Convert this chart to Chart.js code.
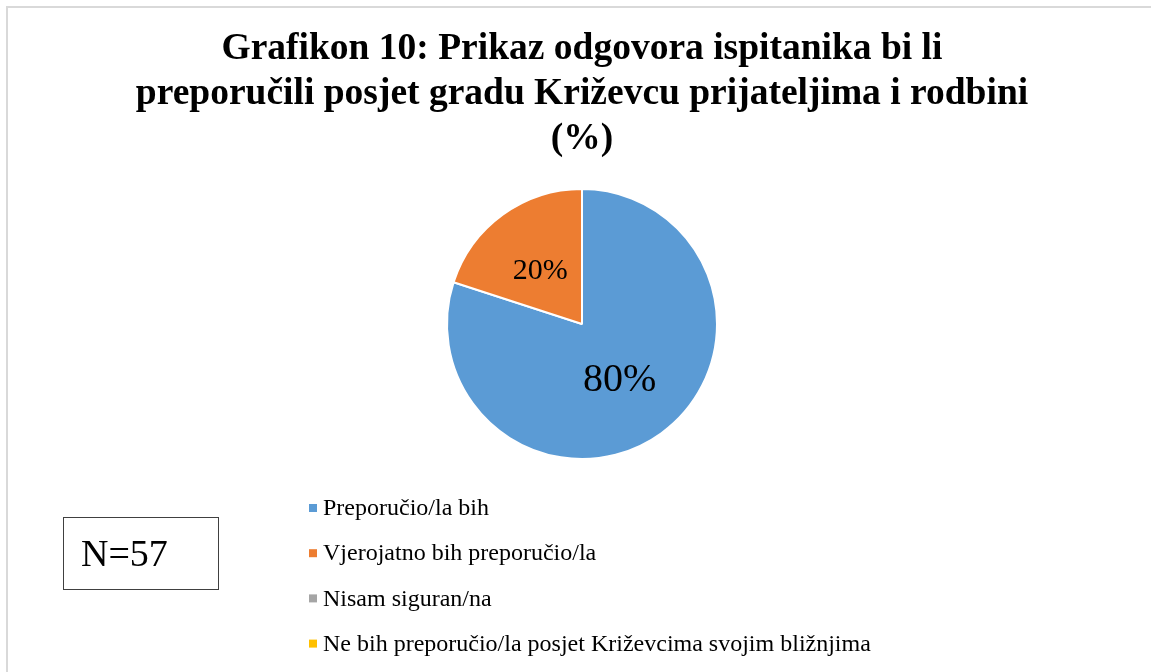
<!DOCTYPE html>
<html>
<head>
<meta charset="utf-8">
<script src="https://cdn.jsdelivr.net/npm/chart.js@4.4.1/dist/chart.umd.min.js"></script>
<style>
    html, body { margin: 0; padding: 0; background: #fff; overflow: hidden; }
    #wrap { position: relative; width: 1151px; height: 672px; }
    #frame {
        position: absolute; left: 6px; top: 6px; width: 1300px; height: 800px;
        border: 2px solid #d9d9d9; box-sizing: border-box; pointer-events: none;
    }
    #nbox {
        position: absolute; left: 63px; top: 517px; width: 156px; height: 73px;
        border: 1.5px solid #404040; box-sizing: border-box;
        font-family: "Liberation Serif", "Times New Roman", serif; font-size: 38px;
        line-height: 70px; padding-left: 17px; color: #000;
    }
</style>
</head>
<body>
<div id="wrap">
    <canvas id="pieChart" width="1151" height="672"></canvas>
    <div id="frame"></div>
    <div id="nbox">N=57</div>
</div>
<script>
// Data
const titleLines = [
    "Grafikon 10: Prikaz odgovora ispitanika bi li",
    "preporučili posjet gradu Križevcu prijateljima i rodbini",
    "(%)"
];
const answers = [
    "Preporučio/la bih",
    "Vjerojatno bih preporučio/la",
    "Nisam siguran/na",
    "Ne bih preporučio/la posjet Križevcima svojim bližnjima"
];
const shares = [80, 20, 0, 0];
const sliceColors = ["#5B9BD5", "#ED7D31", "#A5A5A5", "#FFC000"];

const serif = '"Liberation Serif", "Times New Roman", serif';

// Percent labels in the middle of each slice
const sliceLabels = {
    id: 'sliceLabels',
    afterDatasetsDraw(chart) {
        const ctx = chart.ctx;
        const meta = chart.getDatasetMeta(0);
        ctx.save();
        ctx.fillStyle = '#000';
        ctx.textAlign = 'center';
        ctx.textBaseline = 'middle';
        meta.data.forEach((arc, i) => {
            const v = shares[i];
            if (!v) return;
            const pos = arc.tooltipPosition();
            // big slice gets the bigger label, like the original
            ctx.font = (v >= 50 ? 40 : 30) + 'px ' + serif;
            ctx.fillText(v + '%', pos.x - 2, pos.y + 2);
        });
        ctx.restore();
    }
};

// Vertical legend under the pie
const listLegend = {
    id: 'listLegend',
    afterDraw(chart) {
        const ctx = chart.ctx;
        const colors = chart.data.datasets[0].backgroundColor;
        ctx.save();
        ctx.font = '24px ' + serif;
        ctx.textBaseline = 'middle';
        ctx.textAlign = 'left';
        chart.data.labels.forEach((label, i) => {
            const y = 508 + i * 45.2;
            ctx.fillStyle = colors[i];
            ctx.fillRect(309, y - 4, 8, 8);
            ctx.fillStyle = '#000';
            ctx.fillText(label, 323, y + 1);
        });
        ctx.restore();
    }
};

const ctx = document.getElementById('pieChart').getContext('2d');
new Chart(ctx, {
    type: 'pie',
    data: {
        labels: answers,
        datasets: [{
            data: shares,
            backgroundColor: sliceColors,
            borderColor: '#ffffff',
            borderWidth: 2
        }]
    },
    options: {
        responsive: false,
        animation: false,
        layout: {
            padding: { top: 0, left: 13, right: 0, bottom: 212 }
        },
        plugins: {
            legend: { display: false },
            tooltip: { enabled: false },
            title: {
                display: true,
                text: titleLines,
                color: '#000',
                font: { family: serif, size: 37.5, weight: 'bold', lineHeight: 1.2 },
                padding: { top: 27, bottom: 26 }
            }
        }
    },
    plugins: [sliceLabels, listLegend]
});
</script>
</body>
</html>
